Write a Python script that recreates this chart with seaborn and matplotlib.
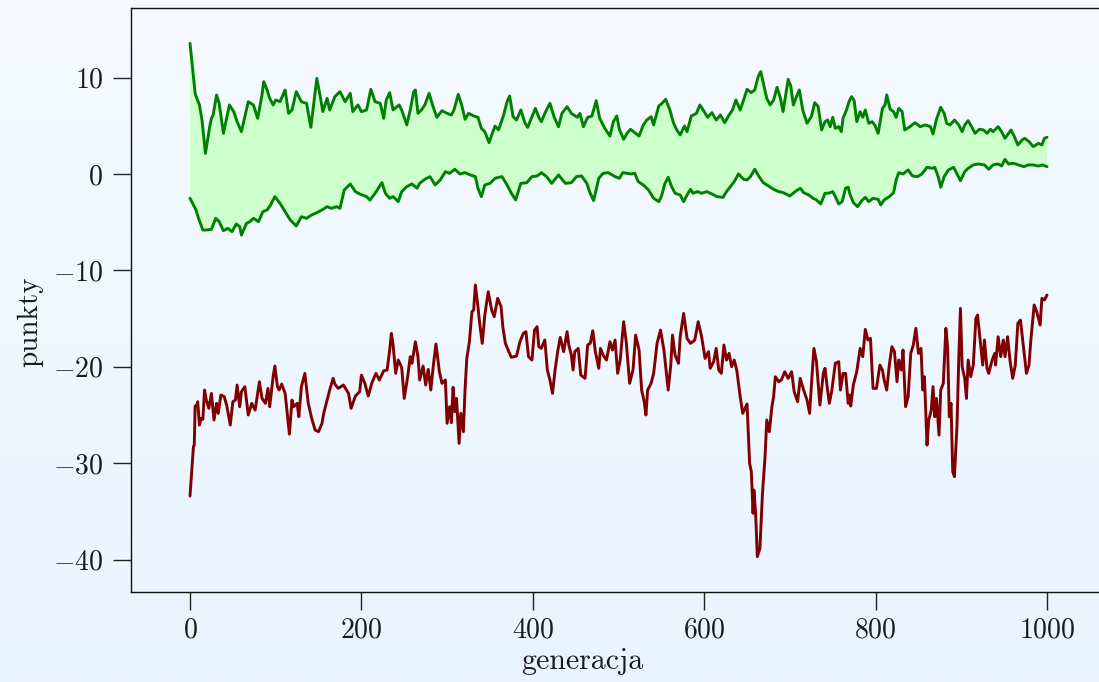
import numpy as np
import pandas as pd
import matplotlib
matplotlib.use("Agg")
import matplotlib.pyplot as plt
import seaborn as sns

# ---------------- data ----------------
upper_gen = [0, 6, 8, 11, 14, 18, 23, 25, 27, 31, 34, 39, 46, 51, 55, 60, 64, 68, 74, 79,
             84, 86, 90, 93, 97, 100, 105, 111, 115, 119, 124, 130, 136, 141, 148, 152, 155, 160,
             163, 169, 175, 181, 187, 190, 196, 200, 206, 211, 216, 222, 226, 229, 233, 237,
             244, 247, 253, 257, 261, 263, 266, 270, 274, 279, 283, 288, 294, 300, 305, 308,
             313, 317, 321, 325, 331, 336, 340, 344, 349, 352, 356, 360, 366, 370, 373, 377,
             381, 386, 391, 394, 399, 403, 407, 410, 415, 420, 425, 430, 434, 440, 445, 452,
             455, 459, 464, 469, 474, 478, 484, 490, 494, 498, 501, 506, 510, 514, 519, 524,
             529, 533, 538, 541, 547, 550, 555, 560, 564, 568, 572, 577, 580, 585, 591, 595,
             600, 604, 609, 614, 619, 624, 629, 633, 637, 642, 646, 650, 655, 659, 663, 666,
             670, 673, 677, 681, 685, 689, 692, 698, 701, 704, 708, 711, 715, 720, 725, 729,
             733, 737, 741, 744, 747, 750, 753, 757, 760, 762, 766, 769, 772, 775, 778, 782,
             785, 788, 792, 796, 799, 803, 808, 811, 813, 817, 821, 824, 827, 831, 834, 840,
             846, 852, 858, 864, 867, 871, 876, 880, 883, 887, 892, 897, 901, 904, 908, 912,
             916, 921, 926, 930, 934, 937, 943, 947, 951, 958, 962, 966, 971, 974, 979, 984,
             990, 994, 997, 1000]
upper_val = [13.56, 8.37, 7.85, 7.16, 5.6, 2.14, 4.91, 5.77, 6.12, 8.2, 7.33, 4.22, 7.16, 6.47,
             5.43, 4.39, 5.95, 7.5, 7.16, 5.77, 8.2, 9.58, 8.71, 7.85, 7.16, 7.68, 7.5, 8.71,
             6.29, 6.64, 8.54, 7.5, 7.33, 4.84, 9.92, 8.02, 6.47, 7.85, 6.64, 8.02, 8.54, 7.5,
             8.37, 6.47, 7.16, 6.47, 6.64, 8.78, 7.5, 7.33, 5.77, 7.68, 8.44, 6.64,
             7.16, 6.64, 5.09, 6.64, 8.54, 8.72, 6.29, 6.64, 7.16, 8.37, 7.16, 5.88, 6.57, 6.29,
             6.12, 6.64, 8.27, 7.16, 5.67, 6.29, 6.02, 5.88, 4.74, 4.39, 3.25, 4.05, 4.98, 4.57,
             6.12, 7.51, 8.09, 5.95, 5.6, 6.64, 5.26, 4.84, 5.95, 6.81, 5.88, 5.43, 6.47, 7.33,
             5.88, 4.91, 6.29, 6.99, 6.29, 5.88, 6.29, 4.91, 5.88, 6.02, 7.61, 5.78, 4.74, 3.94,
             5.43, 6.02, 4.64, 3.6, 4.22, 4.64, 4.29, 3.94, 5.09, 5.6, 5.95, 5.09, 7.06, 7.26,
             7.75, 6.64, 5.33, 4.57, 4.05, 4.98, 4.39, 6.02, 6.29, 7.16, 6.47, 5.88, 6.36, 5.6,
             6.12, 5.33, 6.12, 6.64, 7.68, 6.64, 7.68, 8.79, 8.44, 8.72, 10.1, 10.62, 9.06,
             7.85, 7.16, 7.68, 8.99, 7.85, 6.47, 9.82, 9.13, 7.16, 8.09, 8.72, 6.64, 5.26, 5.95,
             7.4, 6.99, 4.57, 5.43, 5.6, 4.91, 5.88, 4.74, 4.91, 4.39, 5.78, 6.64, 7.51, 8.03,
             7.61, 5.43, 6.47, 5.88, 6.64, 5.26, 5.43, 5.09, 4.22, 6.81, 7.16, 8.2, 6.71, 6.47,
             5.88, 6.81, 6.47, 4.57, 4.91, 5.33, 4.91, 5.09, 4.91, 4.15, 5.67, 6.92, 6.29, 5.26,
             5.09, 5.6, 5.09, 4.39, 5.09, 5.53, 4.91, 4.22, 4.64, 4.57, 4.22, 4.64, 4.39, 4.91,
             4.39, 3.70, 4.57, 3.87, 3.01, 3.53, 3.70, 3.36, 2.84, 3.18, 3.01, 3.70, 3.81]

lower_gen = [0, 4, 7, 10, 15, 19, 25, 30, 34, 39, 44, 49, 54, 58, 60, 66, 70, 74, 80, 85, 90,
             94, 99, 105, 111, 117, 124, 130, 136, 142, 148, 154, 160, 165, 171, 175, 180, 187,
             193, 198, 206, 210, 216, 224, 228, 233, 237, 243, 247, 253, 259, 265, 268, 274,
             280, 286, 292, 298, 303, 309, 315, 321, 327, 333, 336, 340, 344, 350, 356, 364,
             370, 375, 380, 386, 393, 399, 405, 410, 416, 422, 430, 438, 445, 451, 457, 463,
             467, 471, 477, 482, 488, 496, 501, 505, 510, 515, 519, 523, 529, 535, 541, 547,
             550, 554, 558, 562, 566, 572, 576, 580, 584, 587, 592, 597, 603, 609, 615, 622,
             626, 630, 635, 640, 646, 650, 654, 659, 664, 669, 675, 681, 687, 692, 700, 706,
             712, 716, 722, 727, 731, 736, 741, 745, 750, 753, 757, 761, 765, 768, 770, 774,
             779, 784, 788, 792, 797, 803, 806, 810, 816, 821, 824, 827, 832, 838, 843, 849,
             854, 860, 866, 869, 873, 876, 880, 885, 891, 895, 899, 904, 908, 914, 920, 927,
             932, 937, 943, 947, 951, 955, 961, 967, 973, 978, 984, 990, 995, 1000]
lower_val = [-2.52, -3.22, -3.73, -4.6, -5.81, -5.81, -5.74, -4.6, -4.94, -5.88, -5.64, -5.98,
             -5.19, -5.46, -6.33, -5.12, -4.94, -4.6, -4.94, -3.91, -3.73, -3.22, -2.35, -3.04,
             -3.91, -4.77, -5.39, -4.43, -4.6, -4.25, -4.01, -3.73, -3.39, -3.56, -3.39, -3.56,
             -1.66, -1.04, -1.83, -2.07, -2.35, -2.7, -2.0, -0.9, -2.0, -2.52, -2.35, -2.87,
             -1.83, -1.31, -1.03, -1.48, -0.97, -0.55, -0.27, -1.14, -0.62, 0.24, 0.07, 0.49,
             0.0, 0.14, -0.10, -0.27, -1.48, -2.35, -1.14, -0.97, -0.45, -0.27, -1.14, -2.0,
             -2.69, -0.97, -0.90, -0.27, -0.21, 0.14, -0.27, -0.97, -0.10, -0.97, -0.90, -0.27,
             -0.21, -0.97, -2.0, -2.76, -0.45, 0.07, 0.14, -0.27, -0.45, 0.14, 0.07, 0.0, 0.07,
             -0.79, -1.14, -1.66, -2.52, -2.87, -2.35, -1.03, -0.34, -1.31, -2.0, -2.18, -2.87,
             -2.18, -1.59, -2.0, -1.83, -2.0, -1.83, -2.07, -2.35, -2.42, -1.83, -1.38, -0.79,
             0.0, -0.55, -0.62, -0.27, 0.49, -0.27, -0.9, -1.24, -1.59, -1.83, -1.93, -2.28,
             -1.83, -1.48, -1.93, -2.18, -2.52, -2.69, -3.11, -2.0, -2.0, -1.83, -2.35, -3.11,
             -2.87, -1.48, -1.38, -2.07, -2.97, -3.39, -2.76, -2.42, -2.87, -2.52, -2.63, -3.21,
             -2.69, -2.35, -1.93, -0.62, 0.14, 0.0, 0.42, -0.21, -0.27, 0.0, 0.69, 0.59, 0.69,
             -0.27, -1.38, -0.27, 0.42, 0.69, 0.0, -0.69, 0.24, 0.59, 0.94, 1.04, 0.94, 0.49,
             0.94, 1.04, 0.83, 1.52, 1.04, 1.11, 0.94, 0.76, 0.94, 0.94, 0.83, 0.94, 0.76]

red_gen = [0, 4, 5, 6, 8, 9, 11, 13, 15, 17, 19, 22, 25, 28, 31, 33, 36, 40, 43, 47, 50, 53,
           55, 58, 60, 64, 68, 72, 76, 81, 84, 88, 91, 93, 97, 99, 102, 104, 107, 111, 116,
           119, 121, 125, 127, 130, 134, 138, 142, 146, 150, 154, 156, 160, 163, 167, 169, 173,
           179, 185, 188, 193, 198, 200, 204, 208, 212, 217, 221, 226, 230, 233, 235, 237, 240,
           243, 247, 250, 254, 257, 259, 263, 266, 268, 272, 275, 278, 281, 284, 287, 291, 294,
           298, 300, 303, 305, 307, 309, 311, 314, 316, 319, 321, 323, 326, 329, 331, 333, 336,
           338, 341, 344, 348, 352, 355, 359, 363, 365, 368, 372, 375, 381, 385, 389, 392, 395,
           399, 402, 405, 407, 410, 414, 417, 420, 423, 426, 429, 432, 436, 440, 442, 445, 447,
           449, 453, 456, 461, 464, 467, 470, 473, 477, 479, 482, 486, 490, 493, 496, 499, 502,
           506, 509, 513, 517, 520, 524, 527, 530, 532, 534, 538, 541, 545, 549, 553, 558, 561,
           563, 566, 570, 572, 576, 580, 584, 589, 593, 597, 601, 605, 607, 611, 614, 617, 620,
           623, 626, 629, 632, 635, 638, 642, 645, 650, 653, 655, 657, 658, 660, 662, 665, 668,
           671, 673, 676, 679, 681, 683, 687, 690, 694, 698, 702, 705, 709, 712, 716, 720, 723,
           725, 728, 731, 735, 739, 741, 743, 746, 749, 753, 757, 759, 762, 765, 768, 770, 771,
           774, 778, 782, 785, 788, 791, 794, 797, 801, 805, 808, 810, 813, 816, 819, 822, 825,
           827, 830, 832, 835, 838, 841, 844, 847, 850, 853, 855, 857, 860, 862, 865, 867, 869,
           871, 874, 876, 879, 882, 884, 886, 888, 890, 892, 895, 897, 899, 901, 904, 906, 908,
           911, 914, 917, 919, 922, 925, 927, 930, 932, 936, 939, 940, 943, 946, 949, 951, 954,
           957, 960, 963, 966, 969, 971, 974, 976, 979, 981, 985, 988, 992, 994, 997, 1000]
red_val = [-33.41, -28.29, -28.1, -24.07, -23.97, -23.62, -26.04, -25.35, -25.45, -22.41,
           -23.45, -24.31, -22.76, -25.52, -23.79, -24.83, -22.93, -23.1, -24.07, -26.04,
           -23.62, -23.45, -21.89, -24.14, -22.58, -22.06, -25.0, -23.79, -24.49, -21.55,
           -23.28, -23.79, -22.24, -24.14, -21.03, -19.92, -22.06, -22.41, -21.79, -22.76,
           -26.98, -23.45, -24.14, -23.79, -25.18, -22.06, -20.68, -23.79, -25.35, -26.56,
           -26.73, -25.87, -24.83, -23.45, -22.41, -21.2, -21.79, -22.24, -21.89, -22.76,
           -24.31, -23.03, -22.58, -20.86, -21.72, -23.03, -21.72, -20.68, -21.37, -20.41,
           -20.34, -18.26, -16.53, -17.74, -20.68, -19.30, -20.06, -23.28, -21.03, -18.95,
           -19.64, -17.4, -18.95, -21.37, -19.92, -21.89, -20.27, -22.41, -19.82, -17.64,
           -20.51, -21.72, -21.37, -25.87, -24.14, -25.80, -22.13, -24.66, -23.28, -27.94,
           -24.83, -26.73, -22.24, -19.13, -17.4, -14.28, -14.11, -11.52, -13.77, -15.5,
           -17.57, -14.63, -12.21, -14.11, -14.8, -12.9, -13.77, -15.84, -17.57, -18.43,
           -19.02, -18.88, -17.4, -16.53, -16.36, -18.95, -19.3, -16.19, -15.84, -17.92,
           -18.09, -17.22, -20.34, -21.37, -22.76, -20.34, -18.43, -16.95, -18.43, -16.36,
           -17.74, -18.78, -20.34, -18.43, -18.09, -20.86, -21.2, -17.74, -17.57, -16.26,
           -18.43, -20.16, -18.09, -18.78, -19.3, -17.4, -18.26, -17.22, -20.68, -19.3,
           -15.32, -17.4, -21.72, -20.27, -16.71, -18.26, -22.41, -23.62, -25.0, -22.41,
           -21.72, -20.68, -17.57, -16.19, -18.26, -22.41, -19.82, -16.71, -18.78, -19.64,
           -16.88, -14.46, -17.05, -17.57, -17.22, -15.32, -16.88, -19.13, -18.43, -20.16,
           -19.47, -18.09, -20.34, -20.68, -17.74, -19.3, -18.61, -19.99, -19.3, -20.34,
           -23.1, -24.83, -23.86, -30.02, -30.88, -35.2, -32.79, -35.2, -39.7, -38.84,
           -33.13, -29.33, -25.52, -26.73, -24.14, -23.1, -21.03, -21.55, -21.37, -20.51,
           -21.2, -20.51, -22.58, -23.62, -21.2, -22.41, -23.45, -24.83, -22.06, -18.09,
           -19.47, -23.97, -20.68, -20.16, -21.72, -23.79, -22.41, -19.64, -19.47, -22.41,
           -20.68, -20.68, -23.79, -22.93, -24.07, -21.89, -20.51, -18.09, -18.95, -16.12,
           -17.22, -17.05, -22.24, -22.24, -19.82, -20.34, -21.37, -22.41, -19.82, -17.92,
           -18.43, -21.55, -19.3, -20.34, -18.26, -24.14, -23.1, -18.61, -17.74, -16.01,
           -18.61, -18.09, -22.41, -21.03, -28.12, -25.52, -24.49, -22.06, -25.18, -23.28,
           -27.08, -22.41, -21.72, -16.01, -17.92, -25.18, -23.79, -30.88, -31.4, -26.04,
           -19.3, -13.94, -19.99, -21.2, -23.28, -19.3, -21.03, -19.82, -14.98, -14.63,
           -17.22, -19.82, -17.22, -20.16, -20.68, -19.3, -18.61, -19.82, -16.88, -18.95,
           -17.22, -18.95, -16.88, -19.47, -21.2, -19.82, -15.5, -15.15, -16.71, -19.13,
           -20.68, -19.82, -17.4, -13.59, -14.28, -15.67, -12.9, -13.07, -12.56]

x_ticks = [0, 200, 400, 600, 800, 1000]
y_ticks = [10, 0, -10, -20, -30, -40]
x_label = "generacja"
y_label = "punkty"

# ---------------- style ----------------
sns.set_style("ticks")
plt.rcParams["font.family"] = ["cmr10", "DejaVu Serif"]
plt.rcParams["mathtext.fontset"] = "cm"
plt.rcParams["axes.formatter.use_mathtext"] = True
plt.rcParams["axes.unicode_minus"] = True

W, H = 1099, 682
fig = plt.figure(figsize=(W / 100, H / 100), dpi=100)

# gradient background over the whole figure
bg = fig.add_axes([0, 0, 1, 1], zorder=-5)
top_c = np.array([246, 250, 255]) / 255.0
bot_c = np.array([232, 244, 255]) / 255.0
t = np.linspace(0, 1, 256)[:, None, None]
grad = top_c[None, None, :] * (1 - t) + bot_c[None, None, :] * t
bg.imshow(grad, aspect="auto", extent=[0, 1, 0, 1], origin="upper")
bg.set_axis_off()

left, bottom, top = 131 / W, (H - 592) / H, (H - 8) / H
ax = fig.add_axes([left, bottom, 1.0 - left, top - bottom], zorder=1)
ax.set_facecolor("none")

df_up = pd.DataFrame({"gen": upper_gen, "val": upper_val})
df_lo = pd.DataFrame({"gen": lower_gen, "val": lower_val})
df_red = pd.DataFrame({"gen": red_gen, "val": red_val})

# band between upper and lower green lines
poly_x = np.concatenate([df_up["gen"].values, df_lo["gen"].values[::-1]])
poly_y = np.concatenate([df_up["val"].values, df_lo["val"].values[::-1]])
ax.fill(poly_x, poly_y, color="#ccffcc", linewidth=0, zorder=1)

sns.lineplot(data=df_up, x="gen", y="val", ax=ax, color="#008000", linewidth=2.1,
             estimator=None, zorder=3)
sns.lineplot(data=df_lo, x="gen", y="val", ax=ax, color="#008000", linewidth=2.1,
             estimator=None, zorder=3)
sns.lineplot(data=df_red, x="gen", y="val", ax=ax, color="#800000", linewidth=2.1,
             estimator=None, zorder=3)

px_per_gen = (1047 - 190) / 1000.0
ax.set_xlim((131 - 190) / px_per_gen, (W - 190) / px_per_gen)
px_per_unit = (560 - 78) / 50.0
ax.set_ylim((174 - 592) / px_per_unit, (174 - 8) / px_per_unit)

ax.set_xticks(x_ticks)
ax.set_yticks(y_ticks)
ax.tick_params(axis="both", direction="out", length=13, width=1.0, colors="#222222",
               labelsize=20, labelcolor="#1a1a1a")
ax.tick_params(axis="x", pad=5)
ax.tick_params(axis="y", pad=7)

for s in ["left", "bottom", "top"]:
    ax.spines[s].set_visible(True)
    ax.spines[s].set_linewidth(1.0)
    ax.spines[s].set_color("#111111")
ax.spines["right"].set_visible(False)

ax.set_xlabel(x_label, fontsize=21.5, color="#1a1a1a")
ax.set_ylabel(y_label, fontsize=21, color="#1a1a1a")
ax.xaxis.set_label_coords((582 - 131) / (W - 131), (592 - 648) / 584)
ax.yaxis.set_label_coords((43 - 131) / (W - 131), (592 - 322) / 584)

fig.savefig("out.png", dpi=100)
